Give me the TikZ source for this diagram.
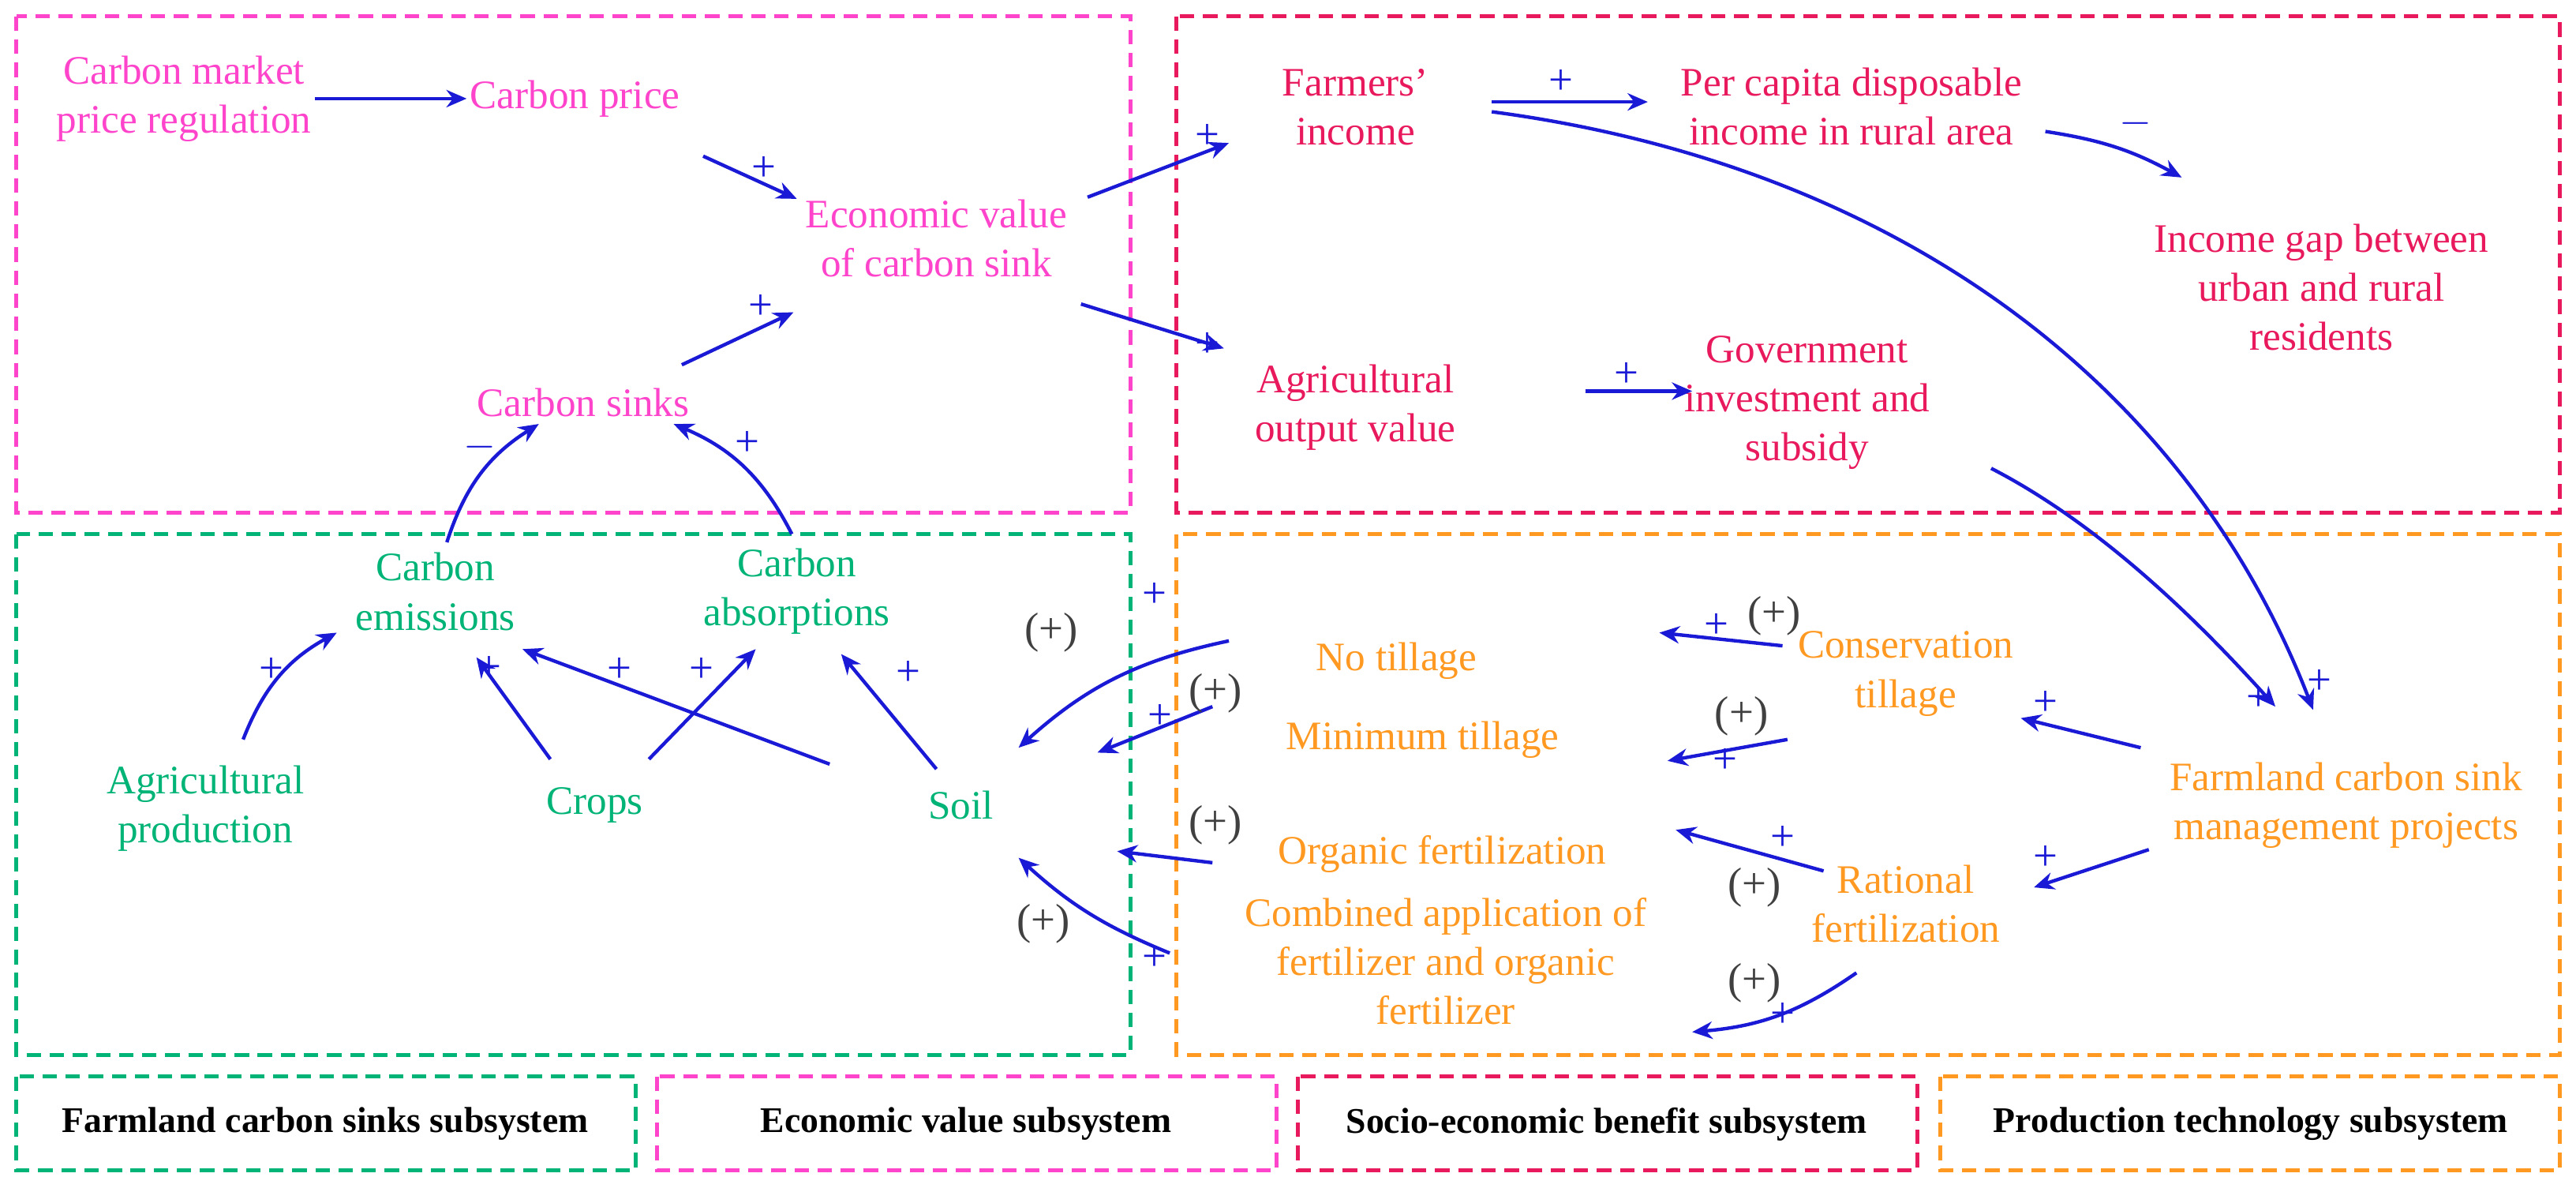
\documentclass[tikz,border=0pt]{standalone}
\usepackage{fontspec}
\setmainfont{Liberation Serif}
\usetikzlibrary{arrows.meta}
\definecolor{cpink}{HTML}{FF44CC}
\definecolor{cred}{HTML}{E8195C}
\definecolor{cgreen}{HTML}{00B377}
\definecolor{corange}{HTML}{FF9922}
\definecolor{cblue}{HTML}{1A1AD6}
\begin{document}
\begin{tikzpicture}[x=0.02cm,y=-0.02cm,
 txt/.style={align=center,inner sep=1pt,font=\fontsize{14}{17}\selectfont},
 pk/.style={txt,text=cpink}, rd/.style={txt,text=cred}, gr/.style={txt,text=cgreen}, og/.style={txt,text=corange},
 box/.style={dashed,line width=1.3pt,dash pattern=on 5pt off 3pt},
 leg/.style={font=\fontsize{12.5}{14}\selectfont\bfseries,text=black},
 ar/.style={-{Stealth[length=7pt,width=6pt]},cblue,line width=1.2pt},
 pl/.style={text=cblue,font=\fontsize{15}{15}\selectfont,inner sep=0pt},
 pp/.style={text=black!75,font=\fontsize{15}{15}\selectfont,inner sep=0pt}]
\useasboundingbox (0,0) rectangle (1568,725);
\draw[box,cpink] (10,10) rectangle (688,312);
\draw[box,cred] (716,10) rectangle (1558,312);
\draw[box,cgreen] (10,325) rectangle (688,642);
\draw[box,corange] (716,325) rectangle (1558,642);
\draw[box,cgreen] (10,655) rectangle (387,712);
\draw[box,cpink] (400,655) rectangle (777,712);
\draw[box,cred] (790,655) rectangle (1167,712);
\draw[box,corange] (1181,655) rectangle (1558,712);
\node[leg] (l1) at (198,684) {Farmland carbon sinks subsystem};
\node[leg] (l2) at (588,684) {Economic value subsystem};
\node[leg] (l3) at (978,684) {Socio-economic benefit subsystem};
\node[leg] (l4) at (1370,684) {Production technology subsystem};
% pink
\node[pk] (cmpr) at (112,60) {Carbon market\\price regulation};
\node[pk] (cp) at (350,60) {Carbon price};
\node[pk] (ev) at (570,145) {Economic value\\of carbon sink};
\node[pk] (cs) at (355,245) {Carbon sinks};
% red
\node[rd] (fi) at (825,65) {Farmers'\\income};
\node[rd] (pc) at (1127,65) {Per capita disposable\\income in rural area};
\node[rd] (ig) at (1413,175) {Income gap between\\urban and rural\\residents};
\node[rd] (ao) at (825,248) {Agricultural\\output value};
\node[rd] (gi) at (1100,245) {Government\\investment and\\subsidy};
% green
\node[gr] (ce) at (265,360) {Carbon\\emissions};
\node[gr] (ca) at (485,360) {Carbon\\absorptions};
\node[gr] (ap) at (125,492) {Agricultural\\production};
\node[gr] (cr) at (362,490) {Crops};
\node[gr] (so) at (585,490) {Soil};
% orange
\node[og] (nt) at (850,402) {No tillage};
\node[og] (mt) at (866,450) {Minimum tillage};
\node[og] (of) at (878,520) {Organic fertilization};
\node[og] (cb) at (880,585) {Combined application of\\fertilizer and organic\\fertilizer};
\node[og] (ct) at (1160,410) {Conservation\\tillage};
\node[og] (fp) at (1428,490) {Farmland carbon sink\\management projects};
\node[og] (rf) at (1160,550) {Rational\\fertilization};
% arrows
\draw[ar] (cmpr.east|-cp) -- (cp.west);
\draw[ar] (428,95) -- (485,121); \node[pl] at (465,103) {+};
\draw[ar] (415,222) -- (483,190); \node[pl] at (463,187) {+};
\draw[ar] (662,120) -- (748,87); \node[pl] at (735,83) {+};
\draw[ar] (658,185) -- (745,212); \node[pl] at (735,210) {+};
\draw[ar] (908,62) -- (1003,62); \node[pl] at (950,50) {+};
\draw[ar] (1245,80) to[bend left=10] (1328,108); \node[pl] at (1300,75) {$-$};
\draw[ar] (908,68) .. controls (1150,100) and (1330,230) .. (1408,432); \node[pl] at (1412,415) {+};
\draw[ar] (965,238) -- (1030,238); \node[pl] at (990,228) {+};
\draw[ar] (1212,285) .. controls (1280,320) and (1340,380) .. (1385,430); \node[pl] at (1375,425) {+};
\draw[ar] (1303,455) -- (1230,437); \node[pl] at (1245,428) {+};
\draw[ar] (1308,517) -- (1238,540); \node[pl] at (1245,522) {+};
\draw[ar] (1085,393) -- (1010,385); \node[pl] at (1045,381) {+}; \node[pp] at (1080,375) {(+)};
\draw[ar] (1088,450) -- (1015,463); \node[pp] at (1060,436) {(+)}; \node[pl] at (1050,463) {+};
\draw[ar] (1110,530) -- (1020,505); \node[pl] at (1085,510) {+}; \node[pp] at (1068,540) {(+)};
\draw[ar] (1130,592) to[bend left=15] (1030,628); \node[pp] at (1068,598) {(+)}; \node[pl] at (1085,618) {+};
\draw[ar] (748,390) to[bend right=15] (620,455); \node[pl] at (703,362) {+}; \node[pp] at (640,385) {(+)};
\draw[ar] (738,430) -- (668,458); \node[pl] at (706,436) {+}; \node[pp] at (740,422) {(+)};
\draw[ar] (738,525) -- (680,518); \node[pp] at (740,502) {(+)};
\draw[ar] (712,580) to[bend left=10] (620,522); \node[pp] at (635,562) {(+)}; \node[pl] at (703,583) {+};
\draw[ar] (570,468) -- (512,398); \node[pl] at (553,410) {+};
\draw[ar] (505,465) -- (318,395); \node[pl] at (377,408) {+};
\draw[ar] (335,462) -- (290,400); \node[pl] at (298,407) {+};
\draw[ar] (395,462) -- (460,395); \node[pl] at (427,408) {+};
\draw[ar] (148,450) to[bend left=20] (205,385); \node[pl] at (165,408) {+};
\draw[ar] (272,330) to[bend left=20] (328,258); \node[pl] at (292,272) {$-$};
\draw[ar] (482,325) to[bend right=20] (410,258); \node[pl] at (455,270) {+};
\end{tikzpicture}
\end{document}
